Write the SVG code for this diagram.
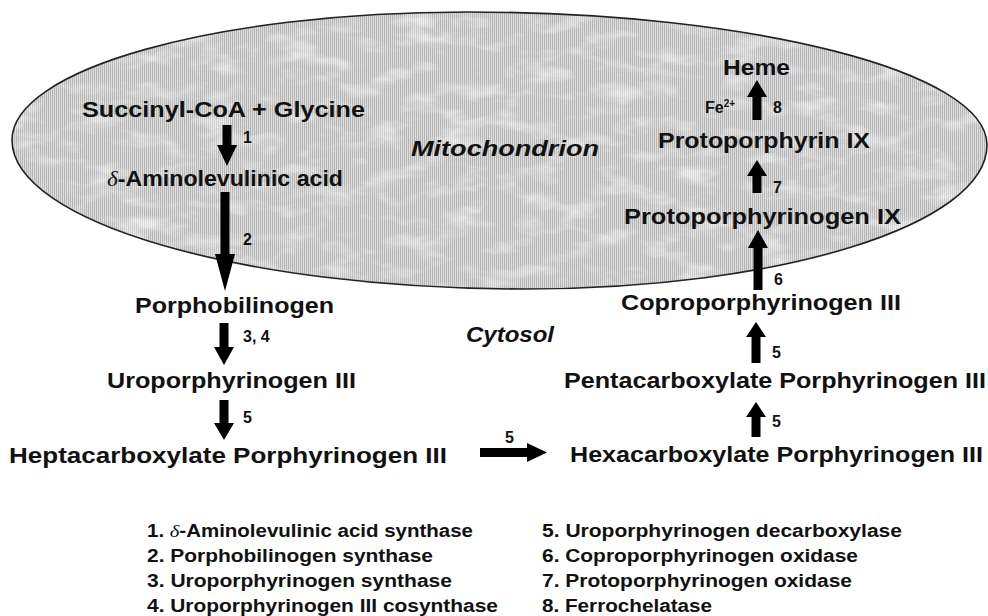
<svg xmlns="http://www.w3.org/2000/svg" width="988" height="616" viewBox="0 0 988 616">
<style>
.t{font-family:"Liberation Sans",Arial,sans-serif;font-weight:bold;font-size:22px;fill:#111}
.n{font-family:"Liberation Sans",Arial,sans-serif;font-weight:bold;font-size:16px;fill:#111}
.i{font-family:"Liberation Sans",Arial,sans-serif;font-weight:bold;font-style:italic;font-size:22px;fill:#111}
.l{font-family:"Liberation Sans",Arial,sans-serif;font-weight:bold;font-size:17.5px;fill:#111}
.d{font-family:"Liberation Serif","Times New Roman",serif;font-style:italic;font-weight:normal}
.a{fill:#000}
</style>
<defs>
<pattern id="hatch" width="2" height="2" patternUnits="userSpaceOnUse">
<rect width="2" height="2" fill="#dcdcdc"/>
<rect width="1" height="2" fill="#b6b6b6"/>
</pattern>
<filter id="mottle" x="0" y="0" width="100%" height="100%">
<feTurbulence type="fractalNoise" baseFrequency="0.025 0.06" numOctaves="4" seed="7" result="n"/>
<feColorMatrix in="n" type="matrix" values="0 0 0 0 1  0 0 0 0 1  0 0 0 0 1  2.6 0 0 0 -1.25" result="w"/>
<feComposite in="w" in2="SourceGraphic" operator="in"/>
</filter>
</defs>
<rect width="988" height="616" fill="#fff"/>
<g id="mitochondrion">
<path d="M12,140 C12,69 216,12 467,12 C754,12 987,72 987,145 C987,225 780,289 525,289 C242,289 12,222 12,140 Z" fill="url(#hatch)"/>
<path d="M12,140 C12,69 216,12 467,12 C754,12 987,72 987,145 C987,225 780,289 525,289 C242,289 12,222 12,140 Z" fill="#000" filter="url(#mottle)" opacity="0.55"/>
<path d="M12,140 C12,69 216,12 467,12 C754,12 987,72 987,145 C987,225 780,289 525,289 C242,289 12,222 12,140 Z" fill="none" stroke="#222" stroke-width="1.6"/>
<text class="i" x="411" y="156" textLength="188" lengthAdjust="spacingAndGlyphs">Mitochondrion</text>
</g>
<g id="cytosol"><text class="i" x="466" y="342" textLength="88" lengthAdjust="spacingAndGlyphs">Cytosol</text></g>
<g id="succinyl"><text class="t" x="82" y="117" textLength="283" lengthAdjust="spacingAndGlyphs">Succinyl-CoA + Glycine</text></g>
<g id="ala"><text class="t" x="107" y="186" textLength="236" lengthAdjust="spacingAndGlyphs"><tspan class="d">δ</tspan>-Aminolevulinic acid</text></g>
<g id="pbg"><text class="t" x="135" y="313" textLength="199" lengthAdjust="spacingAndGlyphs">Porphobilinogen</text></g>
<g id="uro"><text class="t" x="107" y="388" textLength="249" lengthAdjust="spacingAndGlyphs">Uroporphyrinogen III</text></g>
<g id="hepta"><text class="t" x="9" y="463" textLength="438" lengthAdjust="spacingAndGlyphs">Heptacarboxylate Porphyrinogen III</text></g>
<g id="hexa"><text class="t" x="570" y="462" textLength="413" lengthAdjust="spacingAndGlyphs">Hexacarboxylate Porphyrinogen III</text></g>
<g id="penta"><text class="t" x="564" y="388" textLength="422" lengthAdjust="spacingAndGlyphs">Pentacarboxylate Porphyrinogen III</text></g>
<g id="copro"><text class="t" x="621" y="310" textLength="280" lengthAdjust="spacingAndGlyphs">Coproporphyrinogen III</text></g>
<g id="protogen"><text class="t" x="624" y="224" textLength="277" lengthAdjust="spacingAndGlyphs">Protoporphyrinogen IX</text></g>
<g id="proto"><text class="t" x="658" y="148" textLength="212" lengthAdjust="spacingAndGlyphs">Protoporphyrin IX</text></g>
<g id="heme"><text class="t" x="723" y="75" textLength="67" lengthAdjust="spacingAndGlyphs">Heme</text></g>
<g id="connectors">
<path class="a" d="M222.5,125 H231.5 V145 H237 L227,166 L217,145 H222.5 Z"/>
<path class="a" d="M220.5,192 H229.5 V254 H235 L225,291 L215,254 H220.5 Z"/>
<path class="a" d="M219.5,323 H228.5 V347 H234 L224,365 L214,347 H219.5 Z"/>
<path class="a" d="M219.5,400 H228.5 V423 H234 L224,440 L214,423 H219.5 Z"/>
<path class="a" d="M480,448 V457 H527 V462 L547,452.5 L527,443 V448 Z"/>
<path class="a" d="M751.5,437 H760.5 V417 H766 L756,402 L746,417 H751.5 Z"/>
<path class="a" d="M751.5,363 H760.5 V337 H766 L756,322 L746,337 H751.5 Z"/>
<path class="a" d="M753.5,290 H762.5 V248 H768 L758,230 L748,248 H753.5 Z"/>
<path class="a" d="M752.5,193 H761.5 V176 H767 L757,160 L747,176 H752.5 Z"/>
<path class="a" d="M752.5,120 H761.5 V97 H767 L757,80 L747,97 H752.5 Z"/>
<text class="n" x="243" y="143">1</text>
<text class="n" x="243" y="245">2</text>
<text class="n" x="243" y="342">3, 4</text>
<text class="n" x="243" y="423">5</text>
<text class="n" x="505" y="443">5</text>
<text class="n" x="772" y="427">5</text>
<text class="n" x="772" y="358">5</text>
<text class="n" x="774" y="285">6</text>
<text class="n" x="773" y="193">7</text>
<text class="n" x="773" y="113">8</text>
<text class="n" x="705" y="113" font-size="15">Fe<tspan font-size="10" dy="-6">2+</tspan></text>
</g>
<g id="legend">
<text class="l" x="147" y="537" textLength="326" lengthAdjust="spacingAndGlyphs">1. <tspan class="d">δ</tspan>-Aminolevulinic acid synthase</text>
<text class="l" x="147" y="562" textLength="286" lengthAdjust="spacingAndGlyphs">2. Porphobilinogen synthase</text>
<text class="l" x="147" y="587" textLength="305" lengthAdjust="spacingAndGlyphs">3. Uroporphyrinogen synthase</text>
<text class="l" x="147" y="612" textLength="351" lengthAdjust="spacingAndGlyphs">4. Uroporphyrinogen III cosynthase</text>
<text class="l" x="542" y="537" textLength="360" lengthAdjust="spacingAndGlyphs">5. Uroporphyrinogen decarboxylase</text>
<text class="l" x="542" y="562" textLength="316" lengthAdjust="spacingAndGlyphs">6. Coproporphyrinogen oxidase</text>
<text class="l" x="542" y="587" textLength="310" lengthAdjust="spacingAndGlyphs">7. Protoporphyrinogen oxidase</text>
<text class="l" x="542" y="612" textLength="170" lengthAdjust="spacingAndGlyphs">8. Ferrochelatase</text>
</g>
</svg>
